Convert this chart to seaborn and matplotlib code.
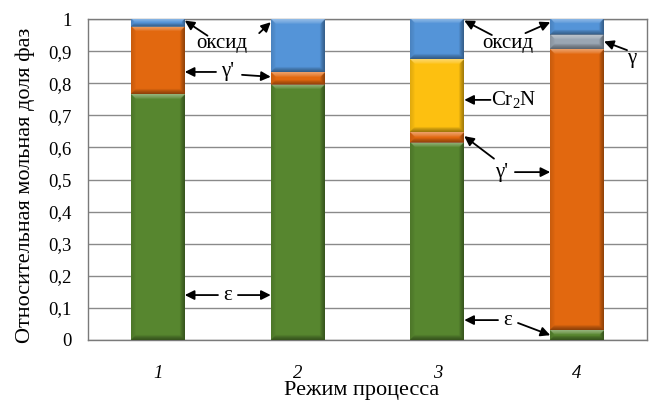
import numpy as np
import pandas as pd
import matplotlib
matplotlib.use("Agg")
import matplotlib.pyplot as plt
import seaborn as sns

# Process modes and phase fractions (stacked from the bottom up)
modes = ["1", "2", "3", "4"]
eps = [0.765, 0.795, 0.615, 0.03]
gamma_prime = [0.21, 0.04, 0.033, 0.875]
cr2n = [0.0, 0.0, 0.227, 0.0]
gamma = [0.0, 0.0, 0.0, 0.045]
oxide = [0.025, 0.165, 0.125, 0.05]

yticks = [0, 0.1, 0.2, 0.3, 0.4, 0.5, 0.6, 0.7, 0.8, 0.9, 1.0]
ytick_labels = ["0", "0,1", "0,2", "0,3", "0,4", "0,5", "0,6", "0,7", "0,8", "0,9", "1"]

phases = [
    ("ε", eps, "#57862F"),
    ("γ'", gamma_prime, "#E2680F"),
    ("Cr2N", cr2n, "#FDC010"),
    ("γ", gamma, "#9AA6B3"),
    ("оксид", oxide, "#5494D8"),
]

BAR_W = 0.385

sns.set_theme(style="white")
plt.rcParams["font.family"] = ["Liberation Serif", "DejaVu Serif"]
plt.rcParams["mathtext.fontset"] = "custom"
plt.rcParams["mathtext.rm"] = "Liberation Serif"
plt.rcParams["mathtext.it"] = "Liberation Serif:italic"

fig = plt.figure(figsize=(6.51, 4.01), dpi=100)
ax = fig.add_axes([88 / 651, 61 / 401, 559 / 651, 321 / 401])

bottom = np.zeros(len(modes))
for name, vals, color in phases:
    df = pd.DataFrame({"mode": modes, "share": vals})
    sns.barplot(data=df, x="mode", y="share", color=color, width=BAR_W,
                bottom=bottom.copy(), ax=ax, saturation=1, errorbar=None,
                edgecolor="none", linewidth=0, zorder=3)
    bottom += np.array(vals)

ax.set_xlim(-0.5, 3.5)
ax.set_ylim(0, 1)


def bevel(patch, b=5.0):
    """Overlay a bevel-like shading on a bar segment."""
    x0, y0 = patch.get_x(), patch.get_y()
    w, h = patch.get_width(), patch.get_height()
    if h <= 1e-6:
        return
    (px0, py0), (px1, py1) = ax.transData.transform([(x0, y0), (x0 + w, y0 + h)])
    W = max(int(round(px1 - px0)), 1) * 2
    H = max(int(round(py1 - py0)), 1) * 2
    bb = min(b * 2, H / 2.2)
    j = np.arange(W)[None, :] + 0.5
    i = np.arange(H)[:, None] + 0.5
    maps = np.stack([np.broadcast_to(d, (H, W)) for d in (i, H - i, j, W - j)])
    idx = maps.argmin(0)
    dmin = maps.min(0)
    fade = np.clip(1 - dmin / bb, 0, 1)
    rgba = np.zeros((H, W, 4))
    # top: highlight, bottom: shadow, left: soft shadow, right: shadow
    tone = np.array([1.0, 0.0, 0.0, 0.0])
    strength = np.array([0.38, 0.40, 0.12, 0.38])
    for k in range(4):
        m = idx == k
        rgba[m, :3] = tone[k]
        rgba[m, 3] = strength[k] * fade[m] ** 0.7
    ax.imshow(rgba, extent=(x0, x0 + w, y0, y0 + h), origin="upper",
              aspect="auto", zorder=4, interpolation="bilinear")


for p in list(ax.patches):
    bevel(p)

ax.set_xlim(-0.5, 3.5)
ax.set_ylim(0, 1)

# grid, frame and ticks
ax.set_yticks(yticks)
ax.set_yticklabels(ytick_labels)
ax.yaxis.grid(True, color="#8a8a8a", linewidth=1.0, zorder=0)
ax.xaxis.grid(False)
ax.set_axisbelow(True)
for s in ax.spines.values():
    s.set_color("#7a7a7a")
    s.set_linewidth(1.0)
ax.tick_params(axis="both", length=0, labelsize=13.5, colors="black")
ax.tick_params(axis="x", pad=18)
ax.tick_params(axis="y", pad=12)
for t in ax.get_xticklabels():
    t.set_fontstyle("italic")

ax.set_xlabel("Режим процесса", fontsize=16, color="black")
ax.set_ylabel("Относительная мольная доля фаз", fontsize=16, color="black")
ax.xaxis.set_label_coords(0.49, -0.172)
ax.xaxis.label.set_va("baseline")
ax.yaxis.set_label_coords(-0.094, 0.483)

# phase annotations: label text and arrows pointing at the segments
half = BAR_W / 2
arrow = dict(arrowstyle="-|>", color="black", lw=1.3, mutation_scale=14,
             shrinkA=0, shrinkB=0)
labels = [
    ("оксид", (0.459, 0.925), [((0.355, 0.948), (0 + half, 0.995)),
                               ((0.725, 0.956), (1 - half, 0.99))]),
    ("γ'", (0.502, 0.835), [((0.416, 0.835), (0 + half, 0.835)),
                            ((0.602, 0.826), (1 - half, 0.82))]),
    ("ε", (0.502, 0.14), [((0.43, 0.14), (0 + half, 0.14)),
                          ((0.573, 0.14), (1 - half, 0.14))]),
    ("оксид", (2.505, 0.925), [((2.39, 0.95), (2 + half, 0.995)),
                               ((2.63, 0.956), (3 - half, 0.99))]),
    ("Cr$_2$N", (2.548, 0.748), [((2.38, 0.748), (2 + half, 0.748))]),
    ("γ'", (2.462, 0.523), [((2.405, 0.565), (2 + half, 0.635)),
                            ((2.555, 0.523), (3 - half, 0.523))]),
    ("ε", (2.505, 0.062), [((2.434, 0.062), (2 + half, 0.062)),
                           ((2.577, 0.053), (3 - half, 0.015))]),
    ("γ", (3.393, 0.878), [((3.357, 0.903), (3 + half, 0.93))]),
]
for text, pos, arrows in labels:
    ax.text(pos[0], pos[1], text, ha="center", va="center", fontsize=15,
            color="black", zorder=6)
    for tail, head in arrows:
        ax.annotate("", xy=head, xytext=tail, arrowprops=arrow, zorder=6,
                    annotation_clip=False)

fig.savefig("out.png", dpi=100)
